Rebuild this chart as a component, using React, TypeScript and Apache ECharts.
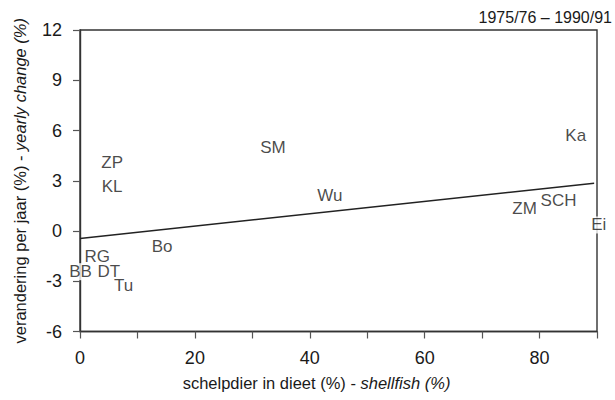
import React, { useEffect, useRef } from "react";
import * as echarts from "echarts";

const siteNames = ["ZP", "KL", "SM", "Wu", "Ka", "SCH", "ZM", "Ei", "Bo", "RG", "BB", "DT", "Tu"];
const shellfishPct = [5.6, 5.6, 33.6, 43.5, 86.3, 83.3, 77.4, 90.3, 14.3, 3.0, 0.1, 5.0, 7.6];
const yearlyChange = [4.06, 2.63, 5.0, 2.1, 5.73, 1.85, 1.37, 0.36, -0.9, -1.53, -2.43, -2.43, -3.27];
const trendX = [0, 89.5];
const trendY = [-0.45, 2.85];
const periodLabel = "1975/76 \u2013 1990/91";

const FONT = "'Liberation Sans', Arial, Helvetica, sans-serif";
const INK = "#1a1a1a";

export default function App() {
  const ref = useRef<HTMLDivElement>(null);
  useEffect(() => {
    if (!ref.current) return;
    const chart = echarts.init(ref.current, null, { renderer: "svg" });
    chart.setOption({
      animation: false,
      backgroundColor: "#fff",
      textStyle: { fontFamily: FONT, color: INK },
      grid: {
        left: 80,
        right: 18,
        top: 30,
        bottom: 68.5,
        show: true,
        borderColor: "#333",
        borderWidth: 1.4,
        backgroundColor: "transparent",
      },
      graphic: [
        {
          type: "text",
          right: 3,
          top: 9,
          style: { text: periodLabel, font: `16px ${FONT}`, fill: INK },
        },
      ],
      xAxis: {
        type: "value",
        min: 0,
        max: 90,
        interval: 10,
        splitLine: { show: false },
        axisLine: { onZero: false, lineStyle: { color: "#333", width: 1.4 } },
        axisTick: { inside: false, length: 7, lineStyle: { color: "#555", width: 1.2 } },
        axisLabel: {
          margin: 17,
          fontSize: 18,
          color: INK,
          fontFamily: FONT,
          formatter: (v: number) => (v % 20 === 0 && v <= 80 ? String(v) : ""),
        },
        name: "{n|schelpdier in dieet (%) - }{i|shellfish (%)}",
        nameLocation: "middle",
        nameGap: 43,
        nameTextStyle: {
          padding: [0, 44, 0, 0],
          rich: {
            n: { fontSize: 16.5, fontFamily: FONT, color: INK },
            i: { fontSize: 16.5, fontFamily: FONT, color: INK, fontStyle: "italic" },
          },
        },
      },
      yAxis: {
        type: "value",
        min: -6,
        max: 12,
        interval: 3,
        splitLine: { show: false },
        axisLine: { show: true, onZero: false, lineStyle: { color: "#333", width: 1.4 } },
        axisTick: { show: true, inside: false, length: 7, lineStyle: { color: "#555", width: 1.2 } },
        axisLabel: { margin: 18, fontSize: 18, color: INK, fontFamily: FONT },
        name: "{n|verandering per jaar (%) - }{i|yearly change (%)}",
        nameLocation: "middle",
        nameGap: 52,
        nameTextStyle: {
          rich: {
            n: { fontSize: 16.5, fontFamily: FONT, color: INK },
            i: { fontSize: 16.5, fontFamily: FONT, color: INK, fontStyle: "italic" },
          },
        },
      },
      series: [
        {
          type: "line",
          data: trendX.map((x, i) => [x, trendY[i]]),
          showSymbol: false,
          symbol: "none",
          lineStyle: { color: "#222", width: 1.5 },
          z: 2,
        },
        {
          type: "scatter",
          symbolSize: 1,
          clip: false,
          itemStyle: { color: "rgba(0,0,0,0)" },
          z: 5,
          data: siteNames.map((n, i) => ({ name: n, value: [shellfishPct[i], yearlyChange[i]] })),
          label: {
            show: true,
            position: "inside",
            formatter: (p: any) => p.name,
            fontSize: 17,
            fontFamily: FONT,
            color: INK,
            backgroundColor: "#fff",
            padding: [0, 0, 0, 0],
          },
        },
      ],
    });
    return () => chart.dispose();
  }, []);
  return <div ref={ref} style={{ width: 615, height: 400, position: "absolute", left: 0, top: 0 }} />;
}
